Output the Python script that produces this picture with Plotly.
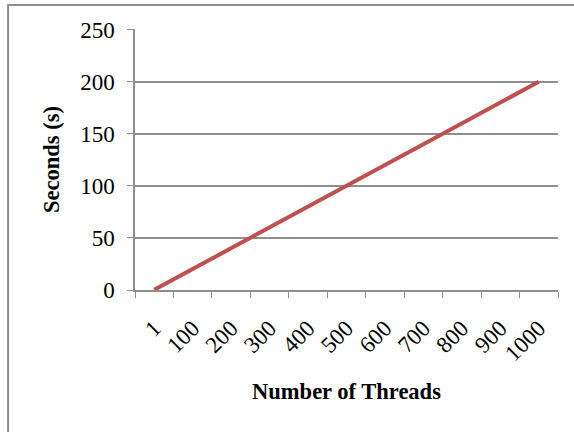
import plotly.graph_objects as go

threads = ["1", "100", "200", "300", "400", "500", "600", "700", "800", "900", "1000"]
seconds = [0.2, 20, 40, 60, 80, 100, 120, 140, 160, 180, 200]
y_ticks = [0, 50, 100, 150, 200, 250]

grey = "#8E8E8E"
serif = "Liberation Serif, Times New Roman, serif"

fig = go.Figure()
fig.add_trace(go.Scatter(
    x=threads,
    y=seconds,
    mode="lines",
    line=dict(color="#C0504D", width=4),
    showlegend=False
))

# outer chart border (only top/left edges show in the frame)
fig.add_shape(type="rect", xref="paper", yref="paper",
              x0=-0.3, x1=1.06, y0=-0.6, y1=1.092,
              line=dict(color=grey, width=2), fillcolor="rgba(0,0,0,0)")

fig.update_xaxes(
    type="category",
    range=[-0.5, 10.5],
    tickson="boundaries",
    ticks="outside", ticklen=6, tickcolor=grey,
    showline=True, linecolor=grey, linewidth=1.5,
    showgrid=False,
    tickangle=-45,
    automargin=False,
    tickfont=dict(family=serif, size=23, color="black"),
    ticklabelstandoff=14,
    title=dict(text="<b>Number of Threads</b>",
               font=dict(family=serif, size=22.5, color="black"),
               standoff=18),
)
fig.update_yaxes(
    range=[0, 250.6],
    tickvals=y_ticks,
    ticks="outside", ticklen=6, tickcolor=grey,
    showline=True, linecolor=grey, linewidth=1.5,
    showgrid=True, gridcolor=grey, gridwidth=1.5,
    zeroline=False,
    automargin=False,
    tickfont=dict(family=serif, size=23, color="black"),
    ticklabelstandoff=8,
    title=dict(text="<b>Seconds (s)</b>",
               font=dict(family=serif, size=22.5, color="black"),
               standoff=14),
)

fig.update_layout(
    width=574, height=432,
    margin=dict(l=135, r=16, t=29, b=142),
    plot_bgcolor="white",
    paper_bgcolor="white",
)

# page body has a default 8px margin; drop it so the figure sits at 0,0
fig.write_html("out.html", config={"displayModeBar": False},
               post_script="document.body.style.margin='0px';")
